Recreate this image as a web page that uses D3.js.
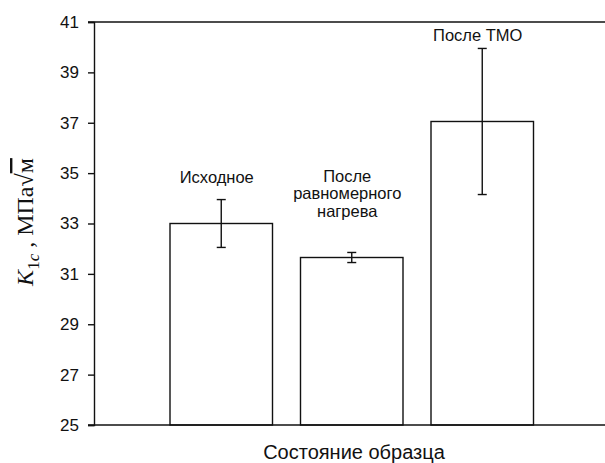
<!DOCTYPE html>
<html>
<head>
<meta charset="utf-8">
<script src="https://cdn.jsdelivr.net/npm/d3@7"></script>
<style>
  body { margin: 0; background: #fff; }
  svg { display: block; }
</style>
</head>
<body>
<svg width="605" height="463"></svg>
<script>
// bar data
const states = ["Исходное", "После равномерного нагрева", "После ТМО"];
const k1c = [33.0, 31.65, 37.05];
const k1cErr = [0.95, 0.2, 2.9];
const stateLabels = [["Исходное"], ["После", "равномерного", "нагрева"], ["После ТМО"]];
// level (in K1c units) of the first label line of each bar
const labelAt = [34.62, 34.65, 40.25];
const yTicks = [25, 27, 29, 31, 33, 35, 37, 39, 41];

var svg = d3.select("svg"),
    plotLeft = 94, plotRight = 664, plotTop = 22, plotBottom = 425;

var x = d3.scaleBand()
    .domain(states)
    .range([plotLeft + 62, plotLeft + 62 + 3 * 130.5])
    .paddingInner(28 / 130.5)
    .paddingOuter(28 / 130.5 / 2);

var y = d3.scaleLinear().domain([25, 41]).range([plotBottom, plotTop]);

// bars
svg.selectAll("rect.bar")
    .data(k1c)
    .enter().append("rect")
    .attr("class", "bar")
    .attr("x", (d, i) => x(states[i]))
    .attr("y", d => y(d))
    .attr("width", x.bandwidth())
    .attr("height", d => y(25) - y(d))
    .attr("fill", "#fff")
    .attr("stroke", "#111")
    .attr("stroke-width", 1.4);

// error bars
var eb = svg.selectAll("g.err")
    .data(k1c)
    .enter().append("g")
    .attr("class", "err")
    .attr("stroke", "#111")
    .attr("stroke-width", 1.4);

eb.append("line")
    .attr("x1", (d, i) => x(states[i]) + x.bandwidth() / 2)
    .attr("x2", (d, i) => x(states[i]) + x.bandwidth() / 2)
    .attr("y1", (d, i) => y(d + k1cErr[i]))
    .attr("y2", (d, i) => y(d - k1cErr[i]));
[1, -1].forEach(function (s) {
    eb.append("line")
        .attr("x1", (d, i) => x(states[i]) + x.bandwidth() / 2 - 4.5)
        .attr("x2", (d, i) => x(states[i]) + x.bandwidth() / 2 + 4.5)
        .attr("y1", (d, i) => y(d + s * k1cErr[i]))
        .attr("y2", (d, i) => y(d + s * k1cErr[i]));
});

// bar labels (sit a bit left of the bar centre, as in the original)
stateLabels.forEach(function (lines, i) {
    var cx = x(states[i]) + x.bandwidth() / 2 - 4.5;
    var t = svg.append("text")
        .attr("text-anchor", "middle")
        .style("font-family", "Liberation Sans, Arial, sans-serif")
        .style("font-size", "16.5px")
        .attr("fill", "#111");
    lines.forEach(function (l, j) {
        t.append("tspan").attr("x", cx).attr("y", y(labelAt[i]) + j * 17.5).text(l);
    });
});

// frame: bottom and top lines
svg.append("line").attr("x1", plotLeft - 6).attr("x2", plotRight).attr("y1", plotBottom).attr("y2", plotBottom)
    .attr("stroke", "#111").attr("stroke-width", 1.4);
svg.append("line").attr("x1", plotLeft - 6).attr("x2", plotRight).attr("y1", plotTop).attr("y2", plotTop)
    .attr("stroke", "#111").attr("stroke-width", 1.4);

// y axis
var yAxis = svg.append("g")
    .attr("transform", "translate(" + plotLeft + ",0)")
    .call(d3.axisLeft(y).tickValues(yTicks).tickSize(6).tickPadding(9).tickFormat(d3.format("d")));
yAxis.select(".domain").attr("stroke", "#111").attr("stroke-width", 1.4);
yAxis.selectAll(".tick line").attr("stroke", "#111").attr("stroke-width", 1.4);
yAxis.selectAll("text")
    .style("font-family", "Liberation Sans, Arial, sans-serif")
    .style("font-size", "17px")
    .attr("fill", "#111");

// x axis title
svg.append("text")
    .attr("x", 354).attr("y", 459)
    .attr("text-anchor", "middle")
    .style("font-family", "Liberation Sans, Arial, sans-serif")
    .style("font-size", "20px")
    .attr("fill", "#111")
    .text("Состояние образца");

// y axis title: K1c, MPa*sqrt(m)
var yt = svg.append("text")
    .attr("transform", "translate(33,222) rotate(-90)")
    .attr("text-anchor", "middle")
    .style("font-family", "Liberation Serif, Times New Roman, serif")
    .style("font-size", "24px")
    .attr("fill", "#111");
yt.append("tspan").style("font-style", "italic").text("K");
yt.append("tspan").attr("dy", 6).style("font-size", "17px").text("1");
yt.append("tspan").style("font-size", "17px").style("font-style", "italic").text("c");
yt.append("tspan").attr("dy", -6).text(" , МПа√");
yt.append("tspan").style("text-decoration", "overline").text("м");
</script>
</body>
</html>
